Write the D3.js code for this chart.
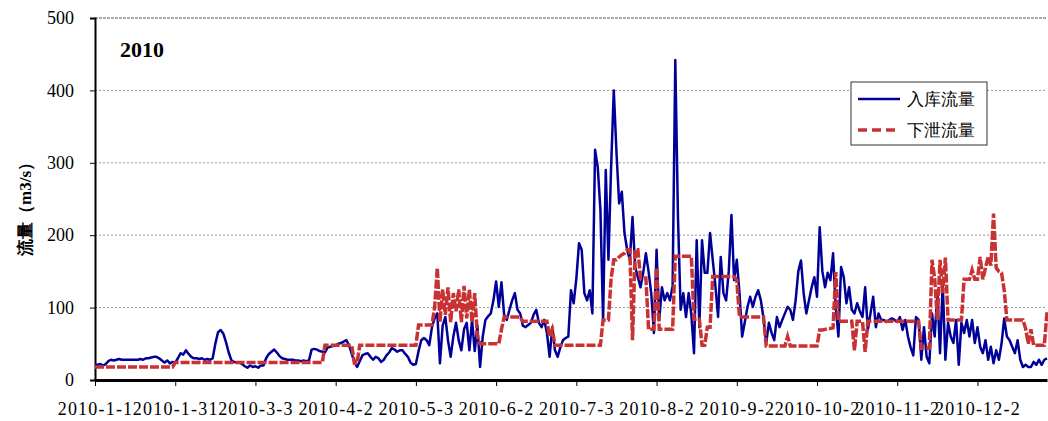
<!DOCTYPE html>
<html>
<head>
<meta charset="utf-8">
<script src="https://d3js.org/d3.v7.min.js"></script>
<style>
  body { margin: 0; background: #fff; }
  text { font-family: "Liberation Serif", serif; }
</style>
</head>
<body>
<svg width="1048" height="421"></svg>
<script>
// daily values from 2010-1-1
const inflow = [
  21, 21, 22, 20, 22, 26, 28, 27, 28, 29,
  28, 28, 28, 28, 28, 28, 28, 29, 28, 30,
  30, 31, 32, 32, 30, 27, 24, 27, 23, 25,
  24, 30, 37, 35, 41, 36, 32, 30, 30, 29,
  30, 28, 29, 28, 30, 50, 66, 69, 64, 52,
  38, 27, 25, 24, 24, 22, 19, 17, 20, 18,
  19, 17, 20, 20, 30, 36, 39, 42, 38, 33,
  30, 29, 28, 28, 28, 27, 27, 26, 27, 26,
  27, 42, 43, 42, 40, 39, 38, 45, 46, 47,
  48, 50, 51, 53, 55, 48, 36, 25, 18, 26,
  34, 36, 37, 32, 28, 32, 30, 25, 28, 34,
  38, 44, 42, 39, 41, 41, 36, 32, 24, 21,
  22, 40, 55, 58, 55, 48, 73, 85, 92, 23,
  75, 87, 55, 32, 60, 79, 55, 41, 70, 79,
  41, 83, 40, 75, 18, 60, 83, 88, 92, 110,
  136, 101, 135, 90, 83, 97, 110, 120, 97, 92,
  75, 73, 76, 79, 90, 97, 79, 73, 83, 65,
  32, 73, 41, 32, 45, 55, 58, 60, 124, 106,
  140, 189, 180, 120, 110, 124, 92, 318, 294, 235,
  83, 290, 166, 294, 400, 315, 244, 260, 203, 180,
  166, 225, 156, 142, 128, 148, 175, 150, 120, 65,
  180, 83, 128, 110, 120, 110, 130, 442, 225, 97,
  120, 87, 120, 90, 37, 193, 73, 193, 148, 148,
  203, 166, 130, 87, 170, 120, 110, 150, 228, 138,
  166, 120, 60, 80, 101, 115, 101, 115, 124, 110,
  85, 51, 79, 65, 55, 87, 73, 83, 92, 101,
  97, 83, 110, 150, 165, 120, 92, 110, 128, 142,
  115, 211, 150, 128, 148, 138, 175, 101, 60, 156,
  142, 106, 128, 97, 92, 106, 95, 87, 128, 69,
  92, 115, 73, 92, 83, 83, 80, 83, 85, 83,
  80, 87, 69, 83, 60, 45, 34, 87, 83, 28,
  73, 32, 23, 92, 60, 120, 37, 134, 28, 79,
  60, 51, 83, 21, 79, 65, 83, 60, 83, 51,
  73, 46, 37, 55, 28, 46, 23, 41, 28, 50,
  85, 60, 55, 46, 37, 55, 28, 18, 21, 18,
  18, 25, 21, 28, 21, 28, 30
];
const outflow = [
  18, 18, 18, 18, 18, 18, 18, 18, 18, 18,
  18, 18, 18, 18, 18, 18, 18, 18, 18, 18,
  18, 18, 18, 18, 18, 18, 18, 18, 18, 18,
  24, 24, 24, 24, 24, 24, 24, 24, 24, 24,
  24, 24, 24, 24, 24, 24, 24, 24, 24, 24,
  24, 24, 24, 24, 24, 24, 24, 24, 24, 24,
  24, 24, 24, 24, 24, 24, 24, 24, 24, 24,
  24, 24, 24, 24, 24, 24, 24, 24, 24, 24,
  24, 24, 24, 24, 24, 24, 48, 48, 48, 48,
  48, 48, 48, 48, 48, 48, 48, 23, 23, 48,
  48, 48, 48, 48, 48, 48, 48, 48, 48, 48,
  48, 48, 48, 48, 48, 48, 48, 48, 48, 48,
  48, 76, 76, 76, 76, 76, 76, 100, 155, 80,
  125, 90, 128, 80, 120, 95, 125, 80, 130, 85,
  125, 80, 120, 60, 50, 50, 50, 50, 50, 50,
  50, 50, 70, 87, 87, 87, 87, 87, 87, 87,
  81, 81, 81, 81, 81, 81, 81, 81, 81, 81,
  60, 70, 48, 48, 48, 48, 48, 48, 48, 48,
  48, 48, 48, 48, 48, 48, 48, 48, 48, 48,
  83, 83, 83, 140, 166, 166, 170, 173, 175, 180,
  180, 55, 180, 180, 141, 141, 141, 70, 70, 70,
  155, 70, 70, 70, 70, 70, 70, 171, 171, 171,
  171, 171, 171, 171, 84, 84, 84, 48, 48, 73,
  73, 143, 143, 143, 143, 143, 143, 143, 143, 143,
  138, 87, 87, 87, 87, 87, 87, 87, 87, 87,
  87, 47, 47, 47, 47, 47, 47, 47, 47, 60,
  47, 47, 47, 47, 47, 47, 47, 47, 47, 47,
  47, 69, 69, 70, 71, 71, 72, 149, 81, 81,
  81, 81, 81, 81, 41, 81, 81, 81, 39, 81,
  81, 81, 81, 81, 81, 81, 81, 81, 81, 81,
  81, 81, 81, 81, 81, 81, 81, 81, 81, 44,
  44, 44, 44, 166, 140, 83, 166, 120, 169, 83,
  83, 83, 83, 83, 83, 139, 139, 139, 152, 139,
  139, 170, 139, 155, 170, 158, 230, 155, 150, 148,
  124, 83, 83, 83, 83, 83, 83, 83, 71, 50,
  70, 48, 48, 48, 48, 48, 94
];
const tickLabels = ["2010-1-1", "2010-1-31", "2010-3-3", "2010-4-2", "2010-5-3", "2010-6-2",
                    "2010-7-3", "2010-8-2", "2010-9-2", "2010-10-2", "2010-11-2", "2010-12-2"];
const yTicks = [0, 100, 200, 300, 400, 500];
const seriesNames = ["入库流量", "下泄流量"];

const svg = d3.select("svg");
const mLeft = 95, mRight = 1047, mTop = 18, mBottom = 380;

const x = d3.scaleLinear().domain([0, inflow.length - 1]).range([mLeft, mRight]);
const y = d3.scaleLinear().domain([0, 500]).range([mBottom, mTop]);

// gridlines
svg.append("g").selectAll("line").data(yTicks.filter(d => d > 0)).enter()
  .append("line")
  .attr("x1", mLeft).attr("x2", mRight)
  .attr("y1", d => y(d)).attr("y2", d => y(d))
  .attr("stroke", d => d === 500 ? "#555" : "#999")
  .attr("stroke-width", 1)
  .attr("stroke-dasharray", d => d === 500 ? "3,1" : "2,2");

// y axis
const yAxis = svg.append("g")
  .attr("transform", "translate(" + mLeft + ",0)")
  .call(d3.axisLeft(y).tickValues(yTicks).tickSize(5).tickPadding(16));
yAxis.select(".domain").attr("stroke", "#000").attr("stroke-width", 2);
yAxis.selectAll("text").attr("font-size", 18).attr("font-family", "Liberation Serif").attr("fill", "#000");

// x axis
const xAxis = svg.append("g")
  .attr("transform", "translate(0," + mBottom + ")")
  .call(d3.axisBottom(x)
    .tickValues(d3.range(tickLabels.length).map(i => i * 30))
    .tickFormat((d, i) => tickLabels[i])
    .tickSize(6).tickSizeOuter(0).tickPadding(16));
xAxis.select(".domain").attr("stroke", "#000").attr("stroke-width", 3);
xAxis.selectAll("text").attr("font-size", 18).attr("font-family", "Liberation Serif")
  .attr("letter-spacing", "1.2px").attr("fill", "#000");

const line = d3.line().x((d, i) => x(i)).y(d => y(d));

svg.append("path").datum(inflow)
  .attr("fill", "none").attr("stroke", "#000099").attr("stroke-width", 2.5)
  .attr("stroke-linejoin", "round").attr("d", line);

svg.append("path").datum(outflow)
  .attr("fill", "none").attr("stroke", "#c83232").attr("stroke-width", 3.5)
  .attr("stroke-dasharray", "9,2").attr("d", line);

// year label
svg.append("text").attr("x", 120).attr("y", 57)
  .attr("font-size", 22).attr("font-weight", "bold").text("2010");

// y title
svg.append("text")
  .attr("transform", "translate(31,205) rotate(-90)")
  .attr("text-anchor", "middle")
  .attr("font-family", "Noto Sans CJK SC")
  .attr("font-size", 17).attr("font-weight", "bold")
  .text("流量（m3/s）");

// legend
const lg = svg.append("g");
lg.append("rect").attr("x", 851).attr("y", 82).attr("width", 136).attr("height", 63)
  .attr("fill", "#fff").attr("stroke", "#333").attr("stroke-width", 1);
const styles = [
  { stroke: "#000099", w: 2.5, dash: null },
  { stroke: "#c83232", w: 3.5, dash: "9,5" }
];
seriesNames.forEach((name, i) => {
  const cy = 99 + i * 31;
  lg.append("line").attr("x1", 858).attr("x2", 900).attr("y1", cy).attr("y2", cy)
    .attr("stroke", styles[i].stroke).attr("stroke-width", styles[i].w)
    .attr("stroke-dasharray", styles[i].dash);
  lg.append("text").attr("x", 907).attr("y", cy + 6)
    .attr("font-family", "Noto Sans CJK SC").attr("font-size", 17).text(name);
});
</script>
</body>
</html>
